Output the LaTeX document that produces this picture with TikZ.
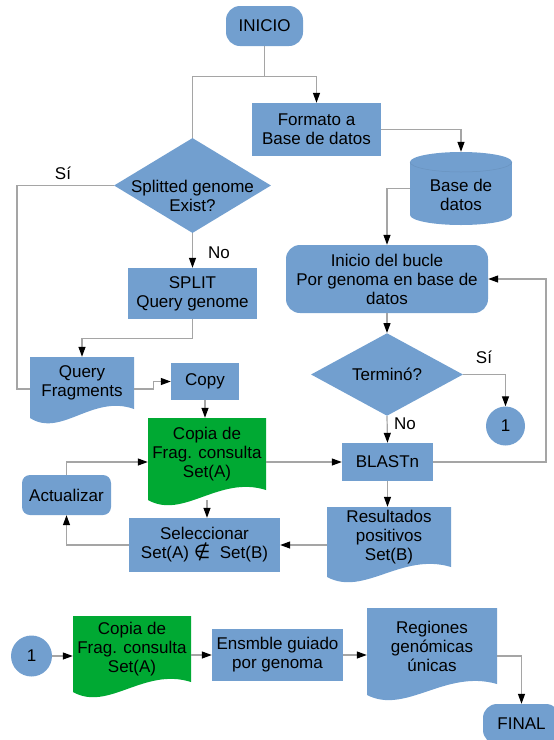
\documentclass[tikz,border=0pt]{standalone}
\usepackage{fontspec}
\setmainfont{Liberation Sans}
\newfontfamily\fcsym{DejaVu Sans}
\usetikzlibrary{shapes.geometric,arrows.meta,calc}
\definecolor{fcblue}{HTML}{729FCF}
\definecolor{fcgreen}{HTML}{00A933}
\definecolor{fcline}{RGB}{165,165,165}
\newcommand\fcfont{\fontsize{17}{19}\selectfont}
% document shape: color, x0, x1, ytop, yright-bottom, yleft-bottom
\newcommand\docfill[6]{\fill[#1] (#2,#4) -- (#3,#4) -- (#3,#5) .. controls ({#2+0.6*(#3-#2)},{#5-15}) and ({#2+0.3*(#3-#2)},{#6+20}) .. (#2,#6) -- cycle;}
\begin{document}
\begin{tikzpicture}[x=1pt,y=-1pt,
  txt/.style={font=\fcfont, text=black, align=center, inner sep=0pt},
  sz/.style 2 args={minimum width=#1pt, minimum height=#2pt},
  box/.style={txt, rectangle, fill=fcblue},
  plainbox/.style={txt, rectangle},
  term/.style={box, rounded corners=14pt},
  dia/.style={txt, diamond, fill=fcblue},
  conn/.style={txt, circle, fill=fcblue},
  line/.style={draw=fcline, line width=1.2pt},
  arr/.style={line, -{Triangle[length=10pt,width=7pt,color=black]}},
]
\useasboundingbox (0,0) rectangle (554,740);

% ---- shapes drawn directly (document waves, cylinder)
\docfill{fcblue}{30}{134}{357}{409}{418}
\docfill{fcgreen}{148}{266}{418}{490}{500}
\docfill{fcblue}{327}{451}{507}{567}{577}
\docfill{fcgreen}{73}{191}{616}{682}{692}
\docfill{fcblue}{367}{497}{608}{684}{695}

\fill[fcblue] (410,162) rectangle (512,215);
\fill[fcblue] (461,162) ellipse [x radius=51, y radius=10];
\fill[fcblue] (461,215) ellipse [x radius=51, y radius=10];
\draw[fcblue!85!black, line width=0.5pt, opacity=0.5] (410,162) arc[start angle=180, end angle=0, x radius=51, y radius=10];

% ---- nodes
\node[term, sz={77}{40}] (inicio) at (264.5,26) {INICIO};
\node[box, sz={129}{53}] (formato) at (316.5,129.5) {Formato a\\Base de datos};
\node[plainbox, sz={102}{73}] (cyl) at (461,188.5) {};
\node[txt] (cyltxt) at (461,195) {Base de\\datos};
\node[dia, sz={157}{95}] (d1) at (192.5,185.5) {};
\node[txt] (d1txt) at (192.5,195.5) {Splitted genome\\Exist?};
\node[txt] (si1) at (63,173) {Sí};
\node[box, sz={129}{51}] (split) at (192.5,293.5) {SPLIT\\Query genome};
\node[txt] (no1) at (219,253) {No};
\node[plainbox, sz={104}{52}] (qf) at (82,383) {Query\\Fragments};
\node[box, sz={68}{37}] (copy) at (205,381.5) {Copy};
\node[plainbox, sz={118}{72}] (g1) at (207,454) {Copia de\\Frag. consulta\\Set(A)};
\node[box, rounded corners=8pt, sz={89}{40}] (act) at (66.5,495) {Actualizar};
\node[box, sz={151}{54}] (sel) at (204.5,545) {Seleccionar\\Set(A) {\fcsym\fontsize{19}{19}\selectfont ∉}\ \ Set(B)};
\node[term, sz={202}{68}] (bucle) at (387,279) {Inicio del bucle\\Por genoma en base de\\datos};
\node[dia, sz={152}{73}] (d2) at (387,374.5) {Terminó?};
\node[txt] (si2) at (484,357) {Sí};
\node[conn, minimum size=39pt] (c1) at (505.5,426) {1};
\node[txt] (no2) at (405,424) {No};
\node[box, sz={91}{38}] (blast) at (387.5,462) {BLASTn};
\node[plainbox, sz={124}{60}] (res) at (389,537) {Resultados\\positivos\\Set(B)};

\node[conn, minimum size=41pt] (c2) at (31.5,656) {1};
\node[plainbox, sz={118}{66}] (g2) at (132,649) {Copia de\\Frag. consulta\\Set(A)};
\node[box, sz={131}{52}] (ens) at (277.5,655) {Ensmble guiado\\por genoma};
\node[plainbox, sz={130}{76}] (reg) at (432,646) {Regiones\\genómicas\\únicas};
\node[term, sz={77}{40}] (final) at (521.5,724) {FINAL};

\coordinate (yesL) at (17,0);
\coordinate (loopR) at (546,0);

% ---- connectors
\draw[line] (inicio.south) -- ++(0,30) coordinate (fork) -| (d1.north);
\draw[arr] (fork) -| (formato.north);
\draw[arr] (formato.east) -| (cyl.north);
\draw[arr] (cyl.west) -| (bucle.north);
\draw[line] (d1.west) -- (d1.west -| yesL) |- ([yshift=-6pt]qf.west);
\draw[arr] (d1.south) -- (split.north);
\draw[arr] (split.south) -- ++(0,19) -| (qf.north);
\draw[arr] ([yshift=-6pt]qf.east) -- ++(19,0) |- (copy.west);
\draw[arr] (copy.south) -- (copy.south |- g1.north);
\draw[arr] (g1.east |- blast.west) -- (blast.west);
\draw[arr] (act.north) |- ([yshift=-8pt]g1.west);
\draw[arr] ([yshift=-10pt]g1.south) -- (g1.south |- sel.north);
\draw[arr] (sel.west) -| (act.south);
\draw[arr] (blast.east) -| (loopR |- bucle.east) -- (bucle.east);
\draw[arr] (bucle.south) -- (d2.north);
\draw[arr] (d2.east) -| (c1.north);
\draw[arr] (d2.south) -- (blast.north);
\draw[arr] (blast.south) -- (blast.south |- res.north);
\draw[arr] (sel.east -| res.west) -- (sel.east);

\draw[arr] (c2.east) -- (c2.east -| g2.west);
\draw[arr] (g2.east |- ens.west) -- (ens.west);
\draw[arr] (ens.east) -- (ens.east -| reg.west);
\draw[arr] ([yshift=-10pt]reg.east) -| (final.north);
\end{tikzpicture}
\end{document}
